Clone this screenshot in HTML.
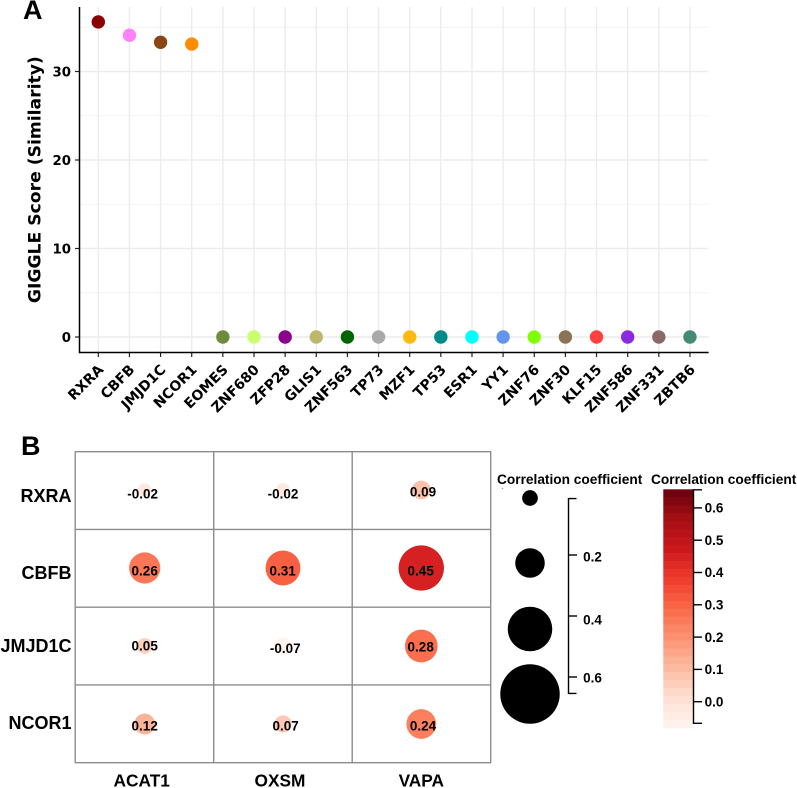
<!DOCTYPE html>
<html>
<head>
<meta charset="utf-8">
<title>GIGGLE score and correlation chart</title>
<style>
html,body{margin:0;padding:0;background:#fff;}
svg{display:block;}
.dv{font-family:"DejaVu Sans",sans-serif;font-weight:700;fill:#000;}
.ls{font-family:"Liberation Sans",sans-serif;font-weight:700;fill:#000;}
</style>
</head>
<body>
<svg id="chart" xmlns="http://www.w3.org/2000/svg" width="797" height="788" viewBox="0 0 797 788">
  <text class="ls" x="23" y="19" font-size="27">A</text>
  <text class="ls" x="21" y="455" font-size="27">B</text>
  <text class="dv" transform="translate(40.5,179.7) rotate(-90)" text-anchor="middle" font-size="17.2">GIGGLE Score (Similarity)</text>
  <text class="ls" x="497" y="484" font-size="13.7">Correlation coefficient</text>
  <text class="ls" x="651" y="484" font-size="13.7">Correlation coefficient</text>
  <circle cx="502.5" cy="488.5" r="0.7" fill="#999"></circle>
</svg>
<script>
// Panel A data
const tfNames = ["RXRA","CBFB","JMJD1C","NCOR1","EOMES","ZNF680","ZFP28","GLIS1","ZNF563","TP73","MZF1","TP53","ESR1","YY1","ZNF76","ZNF30","KLF15","ZNF586","ZNF331","ZBTB6"];
const giggleScores = [35.6,34.1,33.3,33.1,0,0,0,0,0,0,0,0,0,0,0,0,0,0,0,0];
const yTicks = [0,10,20,30];
const yMinorTicks = [5,15,25,35];
const pointColors = ["#8B0000","#FF83FA","#8B4513","#FF8C00","#6E8B3D","#CAFF70","#8B008B","#BDB76B","#006400","#A9A9A9","#FFB90F","#008B8B","#00FFFF","#6495ED","#7FFF00","#8B7355","#FF4040","#8A2BE2","#8B6969","#458B74"];

// Panel B data
const rowGenes = ["RXRA","CBFB","JMJD1C","NCOR1"];
const colGenes = ["ACAT1","OXSM","VAPA"];
const corrRxra = [-0.02,-0.02,0.09];
const corrCbfb = [0.26,0.31,0.45];
const corrJmjd1c = [0.05,-0.07,0.28];
const corrNcor1 = [0.12,0.07,0.24];
const corrRows = [corrRxra,corrCbfb,corrJmjd1c,corrNcor1];
const sizeLegendValues = [0.015,0.2,0.4,0.6];
const sizeTicks = [0.2,0.4,0.6];
const colorTicks = [0,0.1,0.2,0.3,0.4,0.5,0.6];
const redsPalette = ["#FFF5F0","#FEE0D2","#FCBBA1","#FC9272","#FB6A4A","#EF3B2C","#CB181D","#A50F15","#67000D"];

const svg = document.getElementById('chart');
const NS = 'http://www.w3.org/2000/svg';
function make(tag, attrs, parent) {
  const el = document.createElementNS(NS, tag);
  for (const k in attrs) el.setAttribute(k, attrs[k]);
  (parent || svg).appendChild(el);
  return el;
}

// Axis functions
const xA = i => 98.3 + i * 31.14;
const yA = v => 337 - v * 8.85;
const xB = i => 144.7 + i * 138.3;
const yB = i => 490 + i * 78;
const rCell = v => 6 + 37 * Math.abs(v);
const rLegend = v => 7.3 + 37.4 * v;
const ySizeTick = v => 555 + (v - 0.2) * 305;
const yColor = v => 701.7 - v * 323;
const COLOR_MIN = -0.08, COLOR_MAX = 0.66;

function hexToRgb(h){return [parseInt(h.slice(1,3),16),parseInt(h.slice(3,5),16),parseInt(h.slice(5,7),16)];}
function redColor(v){
  let t = (v - COLOR_MIN) / (COLOR_MAX - COLOR_MIN);
  t = Math.max(0, Math.min(1, t)) * (redsPalette.length - 1);
  const i = Math.min(Math.floor(t), redsPalette.length - 2), f = t - i;
  const a = hexToRgb(redsPalette[i]), b = hexToRgb(redsPalette[i + 1]);
  return 'rgb(' + a.map((c, k) => Math.round(c + (b[k] - c) * f)).join(',') + ')';
}

function drawPanelA() {
  const left = 79.5, right = 708.6, top = 7, bottom = 352.5;
  yMinorTicks.forEach(v => {
    const el = make('line', {x1:left, x2:right, y1:yA(v), y2:yA(v), stroke:'#f3f3f3', 'stroke-width':1});
    
    
  });
  yTicks.forEach(v => {
    const el = make('line', {x1:left, x2:right, y1:yA(v), y2:yA(v), stroke:'#ececec', 'stroke-width':1.4});
    
    
  });
  tfNames.forEach((name, i) => {
    const el = make('line', {x1:xA(i), x2:xA(i), y1:top, y2:bottom, stroke:'#ececec', 'stroke-width':1.4});
    
    
  });
  const yAxis = make('line', {x1:left, x2:left, y1:top, y2:bottom + 0.8, stroke:'#000', 'stroke-width':1.5});
  
  
  const xAxis = make('line', {x1:left, x2:right, y1:bottom, y2:bottom, stroke:'#000', 'stroke-width':1.5});
  
  
  yTicks.forEach(v => {
    const tick = make('line', {x1:left - 4.5, x2:left, y1:yA(v), y2:yA(v), stroke:'#222', 'stroke-width':1.2});
    
    
    const label = make('text', {class:'dv', x:71, y:yA(v) + 5, 'text-anchor':'end', 'font-size':13.3});
    label.textContent = v;
    
    
  });
  tfNames.forEach((name, i) => {
    const tick = make('line', {x1:xA(i), x2:xA(i), y1:bottom, y2:bottom + 4.5, stroke:'#222', 'stroke-width':1.2});
    
    
    const label = make('text', {class:'dv', 'text-anchor':'end', 'font-size':14, transform:'translate(' + (xA(i) + 6) + ',370.5) rotate(-45)'});
    label.textContent = name;
    
    
    const pt = make('circle', {cx:xA(i), cy:yA(giggleScores[i]), r:6.7, fill:pointColors[i]});
    
    
  });
}

function drawPanelB() {
  const gridX = i => xB(0) - 69.5 + i * 138.5;
  const gridY = i => 451.7 + i * 77.75;
  const labelNudgeX = [[-2,0,1.7],[0,-0.4,-0.6],[0,2.3,-0.6],[0,2.6,1.7]];
  const labelNudgeY = [[3.7,3.7,1.7],[3,3,3],[0,2.3,0.7],[2,2,2]];
  const rowLabelY = [502,579,652,729];

  corrRows.forEach((row, r) => {
    row.forEach((v, c) => {
      const dot = make('circle', {cx:xB(c), cy:yB(r), r:rCell(v), fill:redColor(v)});
      
      
    });
  });
  for (let i = 0; i <= colGenes.length; i++) {
    const el = make('line', {x1:gridX(i), x2:gridX(i), y1:gridY(0) - 0.6, y2:gridY(rowGenes.length) + 0.6, stroke:'#8c8c8c', 'stroke-width':1.4});
    
    
  }
  for (let i = 0; i <= rowGenes.length; i++) {
    const el = make('line', {x1:gridX(0), x2:gridX(colGenes.length), y1:gridY(i), y2:gridY(i), stroke:'#8c8c8c', 'stroke-width':1.4});
    
    
  }
  corrRows.forEach((row, r) => {
    row.forEach((v, c) => {
      const t = make('text', {class:'ls', x:xB(c) + labelNudgeX[r][c], y:yB(r) + labelNudgeY[r][c] + 4.6, 'text-anchor':'middle', 'font-size':13.5});
      t.textContent = v.toFixed(2);
      
      
    });
  });
  rowGenes.forEach((g, r) => {
    const t = make('text', {class:'ls', x:71.5, y:rowLabelY[r], 'text-anchor':'end', 'font-size':18});
    t.textContent = g;
    
    
  });
  colGenes.forEach((g, c) => {
    const t = make('text', {class:'ls', x:xB(c) - 3 + (c === 2 ? 3 : 0), y:786.5, 'text-anchor':'middle', 'font-size':17.3});
    t.textContent = g;
    
    
  });
}

function drawSizeLegend() {
  const circleY = [498,563,629,694];
  const labelNudgeY = [6.5,8.5,5.7];
  sizeLegendValues.forEach((v, i) => {
    const el = make('circle', {cx:530, cy:circleY[i], r:rLegend(v), fill:'#000'});
    
    
  });
  const yTop = ySizeTick(0.015), yBot = ySizeTick(0.654);
  const bar = make('path', {d:'M576.5 ' + yTop + 'H568.5V' + yBot + 'H576.5', fill:'none', stroke:'#000', 'stroke-width':1.4});
  
  
  sizeTicks.forEach((v, i) => {
    const tick = make('line', {x1:568.5, x2:577, y1:ySizeTick(v), y2:ySizeTick(v), stroke:'#000', 'stroke-width':1.4});
    
    
    const t = make('text', {class:'ls', x:592.5, y:ySizeTick(v) + labelNudgeY[i], 'text-anchor':'middle', 'font-size':13.5});
    t.textContent = v.toFixed(1);
    
    
  });
}

function drawColorLegend() {
  const top = 489.3, bottom = 728, bands = 30, h = (bottom - top) / bands;
  for (let i = 0; i < bands; i++) {
    const v = COLOR_MAX - (i + 0.5) * (COLOR_MAX - COLOR_MIN) / bands;
    const el = make('rect', {x:663.3, y:top + i * h, width:30, height:h + 0.4, fill:redColor(v)});
    
    
  }
  const axis = make('path', {d:'M702 489.8H693.5V723.3H702', fill:'none', stroke:'#000', 'stroke-width':1.4});
  
  
  colorTicks.forEach(v => {
    const tick = make('line', {x1:693.5, x2:702, y1:yColor(v), y2:yColor(v), stroke:'#000', 'stroke-width':1.4});
    
    
    const t = make('text', {class:'ls', x:714, y:yColor(v) + 4.7, 'text-anchor':'middle', 'font-size':13.5});
    t.textContent = v.toFixed(1);
    
    
  });
}

drawPanelA();
drawPanelB();
drawSizeLegend();
drawColorLegend();
</script>
</body>
</html>
